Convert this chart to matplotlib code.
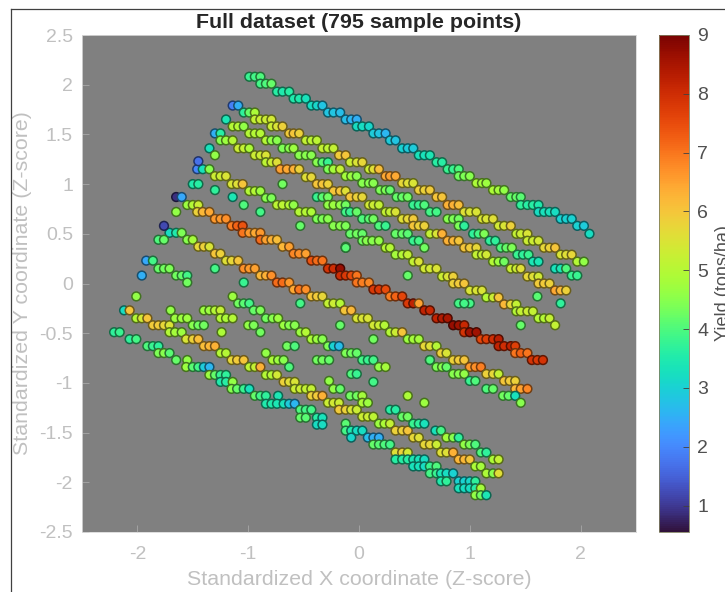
import numpy as np
import matplotlib
matplotlib.use('Agg')
import matplotlib.pyplot as plt

plt.rcParams['font.family'] = ['Liberation Sans', 'DejaVu Sans']

# top row
top_x = [-0.99,-0.94,-0.89, -0.89,-0.84,-0.79, -0.74,-0.69,-0.63, -0.59,-0.54,-0.48, -0.43,-0.38,-0.33,
         -0.28,-0.23,-0.17, -0.12,-0.07,-0.02, -0.02,0.03,0.09, 0.13,0.18,0.24, 0.28,0.33, 0.39,0.44,0.49,
         0.54,0.59,0.64, 0.70,0.75, 0.80,0.85,0.90, 0.90,0.95,1.00, 1.06,1.11,1.15, 1.21,1.26,1.31,
         1.37,1.42,1.46, 1.46,1.52,1.57,1.62, 1.62,1.67,1.72,1.77, 1.82,1.87,1.92, 1.97,2.03, 2.08]
top_y = [2.08,2.08,2.08, 2.01,2.01,2.01, 1.93,1.93,1.93, 1.86,1.86,1.86, 1.79,1.79,1.79,
         1.72,1.72,1.72, 1.65,1.65,1.65, 1.58,1.58,1.58, 1.51,1.51,1.51, 1.44,1.44, 1.36,1.36,1.36,
         1.29,1.29,1.29, 1.22,1.22, 1.15,1.15,1.15, 1.08,1.08,1.08, 1.01,1.01,1.01, 0.94,0.94,0.94,
         0.87,0.87,0.87, 0.79,0.79,0.79,0.79, 0.72,0.72,0.72,0.72, 0.65,0.65,0.65, 0.58,0.58, 0.50]
top_v = [3.8,3.9,4.0, 3.9,4.0,4.2, 3.6,3.5,3.6, 3.5,3.5,3.3, 3.2,3.1,2.8,
         2.8,2.8,2.7, 2.7,2.6,2.5, 3.2,3.2,3.1, 2.9,2.8,2.6, 2.9,2.8, 3.0,2.9,2.9,
         3.3,3.3,3.4, 3.6,3.6, 3.8,3.8,4.0, 4.3,4.4,4.5, 4.9,4.8,4.7, 4.9,4.8,4.6,
         4.2,4.2,4.1, 3.7,3.6,3.6,3.5, 3.2,3.3,3.3,3.2, 3.0,3.0,3.0, 3.0,2.9, 3.2]

# second row
second_x = [-1.14,-1.09, -1.04,-0.99,-0.94, -0.94,-0.89,-0.84,-0.79, -0.79,-0.74,-0.69, -0.63,-0.59,-0.54,
            -0.48,-0.43,-0.38, -0.33,-0.28,-0.23, -0.18,-0.12, -0.08,-0.02,0.03, 0.09,0.13,0.18,
            0.24,0.28,0.33, 0.39,0.44,0.49, 0.54,0.59,0.64, 0.70,0.75, 0.80,0.85,0.90, 0.95,1.00,1.06,
            1.11,1.15,1.21, 1.26,1.31,1.37, 1.42,1.46,1.52, 1.52,1.57,1.62, 1.67,1.72,1.77,
            1.82,1.87,1.92, 1.97,2.03]
second_y = [1.79,1.79, 1.72,1.72,1.72, 1.65,1.65,1.65,1.65, 1.58,1.58,1.58, 1.51,1.51,1.51,
            1.44,1.44,1.44, 1.36,1.36,1.36, 1.29,1.29, 1.22,1.22,1.22, 1.15,1.15,1.15,
            1.08,1.08,1.08, 1.01,1.01,1.01, 0.94,0.94,0.94, 0.87,0.87, 0.79,0.79,0.79, 0.72,0.72,0.72,
            0.65,0.65,0.65, 0.58,0.58,0.58, 0.50,0.50,0.50, 0.43,0.43,0.43, 0.36,0.36,0.36,
            0.29,0.29,0.29, 0.22,0.22]
second_v = [1.9,2.5, 3.7,4.2,4.9, 5.2,5.3,5.3,5.4, 5.3,5.5,5.8, 5.9,6.0,5.8,
            5.2,5.1,5.1, 5.2,5.1,5.2, 5.9,6.0, 5.3,5.5,5.7, 5.3,5.6,6.1,
            6.4,6.5,6.4, 5.7,5.6,5.5, 5.8,5.8,5.9, 6.0,6.0, 6.3,6.3,6.1, 5.6,5.5,5.5,
            5.5,5.5,5.6, 5.4,5.5,5.8, 5.2,5.3,5.5, 5.3,5.3,5.4, 5.7,5.8,6.0,
            5.5,5.6,5.7, 5.0,4.6]

# third row, green band
third_x = [-1.20, -1.14,-1.09,-1.04, -1.30,-1.25, -0.99,-0.94,-0.89, -0.84,-0.79,-0.74, -0.69,-0.63,-0.59,
           -0.54,-0.48,-0.43, -0.38,-0.33,-0.28, -0.28,-0.23,-0.17, -0.12,-0.07,-0.02, 0.03,0.09,0.13,
           0.19,0.24,0.28, 0.34,0.39,0.44, 0.49,0.54,0.59, 0.64,0.70, 0.80,0.85,0.90, 0.90,0.95,
           1.03,1.08,1.13, 1.18,1.23, 1.28,1.33,1.38, 1.43,1.48,1.53, 1.57,1.62, 1.77,1.82,1.87, 1.92,1.97]
third_y = [1.65, 1.58,1.58,1.58, 1.51,1.51, 1.51,1.51,1.51, 1.44,1.44,1.44, 1.36,1.36,1.36,
           1.29,1.29,1.29, 1.22,1.22,1.22, 1.15,1.15,1.15, 1.08,1.08,1.08, 1.01,1.01,1.01,
           0.94,0.94,0.94, 0.87,0.87,0.87, 0.79,0.79,0.79, 0.72,0.72, 0.65,0.65,0.65, 0.58,0.58,
           0.50,0.50,0.50, 0.43,0.43, 0.36,0.36,0.36, 0.29,0.29,0.29, 0.22,0.22, 0.15,0.15,0.15, 0.08,0.08]
third_v = [3.4, 5.0,5.0,4.6, 2.5,3.6, 5.0,5.0,5.0, 5.0,4.6,4.5, 4.4,4.5,4.7,
           4.5,4.5,4.5, 4.5,4.1,3.8, 4.4,4.8,5.2, 4.8,4.7,4.5, 4.5,4.5,4.5,
           4.4,4.4,4.2, 4.2,4.2,4.3, 3.8,3.8,4.0, 3.9,3.9, 4.5,4.4,4.3, 4.4,3.7,
           3.7,3.9,4.4, 3.7,3.7, 4.0,4.2,4.4, 3.8,3.7,3.8, 3.4,3.4, 3.3,3.4,4.0, 3.8,3.8]

# fourth row, yellow band
fourth_x = [-1.25,-1.20,-1.14, -1.09,-1.04,-0.99, -0.94,-0.89,-0.84, -0.84,-0.79,-0.74, -0.71,-0.65,-0.59,-0.54,
            -0.48,-0.43, -0.38,-0.33,-0.28, -0.23,-0.17,-0.12, -0.08,-0.02,0.03, 0.09,0.13,0.18,
            0.24,0.28,0.33, 0.39,0.44,0.49, 0.49,0.54,0.59, 0.64,0.70,0.75, 0.80,0.85,0.90,
            0.95,1.00,1.06, 1.06,1.11,1.15, 1.21,1.26,1.31, 1.37,1.42,1.46, 1.52,1.57,1.62,
            1.62,1.67,1.72, 1.77,1.82,1.87]
fourth_y = [1.44,1.44,1.44, 1.36,1.36,1.36, 1.29,1.29,1.29, 1.22,1.22,1.22, 1.15,1.15,1.15,1.15,
            1.07,1.07, 1.00,1.00,1.00, 0.93,0.93,0.93, 0.87,0.87,0.87, 0.79,0.79,0.79,
            0.72,0.72,0.72, 0.65,0.65,0.65, 0.58,0.58,0.58, 0.50,0.50,0.50, 0.43,0.43,0.43,
            0.36,0.36,0.36, 0.29,0.29,0.29, 0.22,0.22,0.22, 0.15,0.15,0.15, 0.07,0.07,0.07,
            0.00,0.00,0.00, -0.07,-0.07,-0.07]
fourth_v = [4.5,4.7,5.0, 5.3,5.2,4.9, 5.3,5.3,5.5, 5.1,5.3,5.6, 6.5,6.4,6.3,5.8,
            5.6,5.7, 6.0,6.0,5.8, 6.0,6.0,5.6, 6.0,5.8,5.7, 5.4,5.3,5.2,
            5.2,5.2,5.5, 5.6,5.7,5.9, 6.0,5.8,5.8, 5.2,5.5,6.3, 6.3,6.2,6.0,
            6.0,5.9,5.7, 5.2,5.2,5.4, 5.0,4.7,4.3, 5.3,5.3,5.6, 5.7,5.6,5.4,
            5.9,5.9,5.8, 6.4,6.2,5.8]

# fifth row, runs down to the lower right corner
fifth_x = [-1.46,-1.41,-1.35, -1.30,-1.25,-1.20, -1.15,-1.10,-1.05, -0.99,-0.94,-0.89, -0.84,-0.79,
           -0.74,-0.69,-0.63,-0.59, -0.54,-0.48,-0.43, -0.38,-0.33,-0.28, -0.23,-0.17,-0.12,
           -0.08,-0.02,0.03, 0.03,0.07,0.12,0.18, 0.24,0.28, 0.33,0.39,0.44, 0.49,0.54,
           0.59,0.64,0.70, 0.75,0.80,0.85, 0.85,0.90,0.95, 1.00,1.06,1.11, 1.15,1.21,1.26,
           1.31,1.37,1.42, 1.42,1.46,1.52,1.57, 1.62,1.67,1.72, 1.77]
fifth_y = [1.15,1.15,1.15, 1.08,1.08,1.08, 1.00,1.00,1.00, 0.93,0.93,0.93, 0.86,0.86,
           0.79,0.79,0.79,0.79, 0.72,0.72,0.72, 0.65,0.65,0.65, 0.58,0.58,0.58,
           0.50,0.50,0.50, 0.43,0.43,0.43,0.43, 0.36,0.36, 0.29,0.29,0.29, 0.22,0.22,
           0.15,0.15,0.15, 0.07,0.07,0.07, 0.00,0.00,0.00, -0.07,-0.07,-0.07, -0.14,-0.14,-0.14,
           -0.21,-0.21,-0.21, -0.28,-0.28,-0.28,-0.28, -0.35,-0.35,-0.35, -0.42]
fifth_v = [2.0,3.3,4.5, 5.3,5.3,5.5, 5.5,5.6,6.0, 5.0,5.0,4.7, 4.5,4.4,
           5.1,5.1,5.0,4.6, 5.0,5.0,4.9, 4.4,4.4,4.5, 4.5,4.5,4.4,
           4.2,4.3,4.2, 4.3,4.5,4.5,4.6, 5.0,5.0, 4.8,5.0,5.2, 5.2,5.5,
           5.4,5.4,5.5, 5.3,5.5,5.8, 5.8,5.9,6.0, 5.5,5.5,5.5, 5.0,5.3,6.0,
           6.2,5.7,5.2, 5.0,5.2,5.3,5.2, 5.0,5.0,5.2, 5.2]

# green strip under the fifth row
strip_x = [-0.38,-0.33,-0.28, -0.28,-0.23,-0.17,-0.12, -0.12,-0.08,-0.02, 0.03,0.09,0.13, 0.18,0.24]
strip_y = [0.87,0.87,0.87, 0.79,0.79,0.79,0.79, 0.72,0.72,0.72, 0.65,0.65,0.65, 0.58,0.58]
strip_v = [3.8,4.1,4.3, 4.6,4.7,4.6,4.3, 3.9,3.8,4.2, 4.0,4.1,4.3, 4.0,3.8]

# upper orange band into the dark red run
red_x = [-1.55,-1.50,-1.45, -1.46,-1.41,-1.35, -1.30,-1.25,-1.20, -1.15,-1.10,-1.05,
         -1.05,-0.99,-0.94,-0.89, -0.89,-0.84,-0.79,-0.74, -0.69,-0.63, -0.59,-0.54,-0.48,
         -0.43,-0.38,-0.33, -0.28,-0.23,-0.17, -0.17,-0.12,-0.07,-0.02, -0.02,0.03,0.09,
         0.13,0.18,0.24, 0.28,0.33,0.39, 0.44,0.49,0.54, 0.59,0.64, 0.70,0.75,0.80,
         0.85,0.90,0.95, 0.95,1.00,1.06, 1.10,1.15,1.21,1.26, 1.26,1.31,1.37,1.41,
         1.41,1.46,1.52, 1.56,1.61,1.66]
red_y = [0.79,0.79,0.79, 0.72,0.72,0.72, 0.65,0.65,0.65, 0.58,0.58,0.58,
         0.51,0.51,0.51,0.51, 0.44,0.44,0.44,0.44, 0.37,0.37, 0.30,0.30,0.30,
         0.23,0.23,0.23, 0.15,0.15,0.15, 0.08,0.08,0.08,0.08, 0.01,0.01,0.01,
         -0.06,-0.06,-0.06, -0.13,-0.13,-0.13, -0.20,-0.20,-0.20, -0.27,-0.27, -0.35,-0.35,-0.35,
         -0.42,-0.42,-0.42, -0.49,-0.49,-0.49, -0.56,-0.56,-0.56,-0.56, -0.63,-0.63,-0.63,-0.63,
         -0.70,-0.70,-0.70, -0.77,-0.77,-0.77]
red_v = [4.7,5.0,5.3, 5.8,6.2,6.4, 6.6,6.6,6.7, 6.9,7.2,7.4,
         7.0,6.6,6.4,6.6, 7.1,6.5,6.3,6.1, 6.2,6.5, 6.8,6.7,6.5,
         7.4,7.1,7.0, 7.9,8.0,8.7, 8.0,7.8,7.5,7.0, 7.0,6.9,6.8,
         7.8,7.8,7.5, 6.9,7.2,7.6, 7.8,8.2,6.5, 8.2,8.1, 8.2,8.4,8.5,
         8.7,8.6,8.1, 7.9,8.6,8.6, 7.6,7.7,8.0,8.3, 8.2,8.0,8.2,7.7,
         7.0,7.2,7.0, 7.9,7.8,7.9]

# lower orange band, starts at the blue points on the left
orange_x = [-1.71,-1.65,-1.60, -1.55,-1.50, -1.45,-1.40,-1.35, -1.30,-1.25, -1.20,-1.15,-1.09,
            -1.04,-0.99,-0.94, -0.89,-0.84,-0.79, -0.74,-0.69,-0.63, -0.59,-0.54,-0.48,
            -0.43,-0.38,-0.33, -0.28,-0.23,-0.17, -0.13,-0.07, -0.02,0.03,0.08, 0.13,0.18,0.23,
            0.28,0.33,0.39, 0.44,0.49,0.54, 0.59,0.64,0.70, 0.74,0.79, 0.85,0.90,0.95,
            1.00,1.05,1.10, 1.15,1.21,1.26, 1.31,1.36,1.41, 1.41,1.46,1.52]
orange_y = [0.51,0.51,0.51, 0.44,0.44, 0.37,0.37,0.37, 0.30,0.30, 0.23,0.23,0.23,
            0.15,0.15,0.15, 0.08,0.08,0.08, 0.01,0.01,0.01, -0.06,-0.06,-0.06,
            -0.13,-0.13,-0.13, -0.20,-0.20,-0.20, -0.27,-0.27, -0.35,-0.35,-0.35, -0.42,-0.42,-0.42,
            -0.49,-0.49,-0.49, -0.56,-0.56,-0.56, -0.63,-0.63,-0.63, -0.70,-0.70, -0.77,-0.77,-0.77,
            -0.84,-0.84,-0.84, -0.91,-0.91,-0.91, -0.98,-0.98,-0.98, -1.06,-1.06,-1.06]
orange_v = [3.2,3.5,4.4, 4.5,4.8, 5.7,5.8,5.5, 6.0,5.8, 5.6,5.7,6.0,
            6.7,6.6,6.5, 6.2,6.3,6.7, 7.1,7.1,6.6, 6.4,7.0,6.7,
            6.0,5.9,5.7, 5.2,5.3,5.0, 6.0,6.2, 5.5,5.5,5.5, 5.4,5.3,5.0,
            5.0,5.3,6.0, 4.7,4.8,4.8, 5.7,5.6,5.0, 5.8,5.5, 5.8,5.9,6.0,
            6.6,6.7,6.9, 5.8,5.7,5.2, 6.0,5.9,5.8, 6.2,6.5,6.8]

# short run to the right under the orange band
tail_x = [0.64, 0.70,0.75,0.79, 0.85,0.90,0.95, 1.00,1.05, 1.15,1.21, 1.30,1.35,1.41, 1.46]
tail_y = [-0.77, -0.84,-0.84,-0.84, -0.91,-0.91,-0.91, -0.98,-0.98, -1.06,-1.06, -1.13,-1.13,-1.13, -1.20]
tail_v = [4.0, 4.4,4.5,4.2, 4.5,4.5,4.6, 3.8,4.0, 4.0,4.2, 4.3,4.2,3.3, 4.5]

# band in the lower half, yellow/orange
low_x = [-2.12,-2.07, -2.01,-1.96,-1.91, -1.86,-1.81,-1.76,-1.71, -1.71,-1.66,-1.60, -1.56,-1.50,-1.45,
         -1.40,-1.35,-1.30, -1.25,-1.20, -1.15,-1.10,-1.04, -0.99,-0.94,-0.89, -0.84,-0.79,-0.74,
         -0.68,-0.63,-0.58, -0.58,-0.53,-0.48,-0.43, -0.43,-0.38,-0.33, -0.28,-0.23,-0.18,
         -0.18,-0.12,-0.07,-0.02, 0.03,0.08,0.13, 0.18,0.23,0.28, 0.33,0.39,0.44, 0.49,0.54,
         0.59,0.64,0.70, 0.74,0.79,0.85, 0.90,0.95,1.00, 1.05,1.10, 1.15,1.21,1.26]
low_y = [-0.27,-0.27, -0.35,-0.35,-0.35, -0.42,-0.42,-0.42,-0.42, -0.49,-0.49,-0.49, -0.56,-0.56,-0.56,
         -0.63,-0.63,-0.63, -0.70,-0.70, -0.77,-0.77,-0.77, -0.84,-0.84,-0.84, -0.92,-0.92,-0.92,
         -0.99,-0.99,-0.99, -1.06,-1.06,-1.06,-1.06, -1.13,-1.13,-1.13, -1.20,-1.20,-1.20,
         -1.27,-1.27,-1.27,-1.27, -1.34,-1.34,-1.34, -1.41,-1.41,-1.41, -1.48,-1.48,-1.48, -1.55,-1.55,
         -1.62,-1.62,-1.62, -1.70,-1.70,-1.70, -1.77,-1.77,-1.77, -1.84,-1.84, -1.91,-1.91,-1.91]
low_v = [3.2,6.0, 5.0,5.4,6.0, 5.9,5.9,5.7,5.5, 5.0,4.8,4.7, 5.5,5.8,6.1,
         6.1,6.2,6.3, 5.0,5.0, 5.7,5.9,6.0, 5.1,5.2,6.3, 5.0,5.0,5.4,
         5.8,5.6,5.5, 5.3,5.3,5.2,5.2, 5.8,5.9,6.3, 5.3,5.4,5.3,
         5.9,5.8,5.5,5.3, 5.3,5.3,5.1, 4.7,4.9,5.2, 5.8,5.8,6.0, 5.7,5.6,
         5.7,5.7,5.3, 5.6,5.6,6.3, 6.2,6.2,6.0, 4.9,4.8, 4.9,4.5,5.6]

# bottom band, mostly green and cyan
bottom_x = [-2.21,-2.16, -2.07,-2.01, -1.91,-1.86,-1.81, -1.81,-1.76,-1.71, -1.65, -1.55,
            -1.56,-1.50,-1.45,-1.40,-1.35, -1.35,-1.30,-1.25,-1.20, -1.25,-1.20,-1.14,
            -1.15,-1.10,-1.04,-0.99, -0.94,-0.89,-0.84, -0.73, -0.84,-0.79,-0.74,-0.68,-0.63,-0.58,
            -0.53,-0.48,-0.43, -0.53,-0.48, -0.38,-0.33, -0.38,-0.33,
            -0.12, -0.12,-0.07,-0.02,0.03, -0.07, 0.08,0.13,0.18, 0.13,0.18,0.23,0.28,
            0.33,0.39,0.44, 0.33,0.39,0.44,0.49,0.54,0.59, 0.49,0.54,0.59, 0.64,0.70,
            0.64,0.70,0.74,0.79,0.85, 0.74,0.79, 0.90,0.95,1.00,1.05, 0.90,0.95,1.00,1.05,1.10,
            1.05,1.10,1.15]
bottom_y = [-0.49,-0.49, -0.56,-0.56, -0.63,-0.63,-0.63, -0.70,-0.70,-0.70, -0.77, -0.77,
            -0.84,-0.84,-0.84,-0.84,-0.84, -0.92,-0.92,-0.92,-0.92, -0.99,-0.99,-0.99,
            -1.06,-1.06,-1.06,-1.06, -1.13,-1.13,-1.13, -1.13, -1.21,-1.21,-1.21,-1.21,-1.21,-1.21,
            -1.27,-1.27,-1.27, -1.35,-1.35, -1.35,-1.35, -1.42,-1.42,
            -1.41, -1.48,-1.48,-1.48,-1.48, -1.55, -1.55,-1.55,-1.55, -1.62,-1.62,-1.62,-1.62,
            -1.70,-1.70,-1.70, -1.77,-1.77,-1.77,-1.77,-1.77,-1.77, -1.84,-1.84,-1.84, -1.84,-1.84,
            -1.91,-1.91,-1.91,-1.91,-1.91, -1.99,-1.99, -1.99,-1.99,-1.99,-1.99, -2.06,-2.06,-2.06,-2.06,-2.06,
            -2.13,-2.13,-2.13]
bottom_v = [3.7,3.8, 3.7,3.9, 4.0,3.8,3.7, 4.4,4.5,4.1, 4.2, 4.6,
            4.7,4.1,3.9,2.9,2.6, 4.7,4.2,3.8,3.7, 3.5,3.6,4.6,
            4.5,4.2,3.8,3.3, 4.2,3.9,3.7, 3.4, 3.5,3.5,3.4,3.3,2.9,2.6,
            4.0,3.9,3.9, 4.2,4.1, 3.6,3.3, 3.2,3.2,
            4.1, 3.9,3.5,3.2,3.2, 3.1, 2.7,2.5,2.5, 4.2,4.1,4.0,3.9,
            5.6,5.8,5.4, 3.6,3.6,3.6,3.4,3.3,3.2, 3.3,3.3,3.2, 3.8,4.0,
            3.9,3.8,3.4,3.2,3.0, 3.5,3.7, 3.0,3.0,3.1,3.7, 3.3,3.2,3.2,3.6,4.8,
            4.6,4.3,3.4]

# upper band of the lower block
mid_x = [-1.70, -1.66,-1.60,-1.55, -1.50,-1.45,-1.40, -1.40,-1.35,-1.30,-1.25, -1.25,-1.20,-1.14, -1.24,
         -1.09,-1.04,-0.99, -0.95,-0.89, -0.84,-0.78,-0.73, -0.68,-0.63,-0.58, -0.53,-0.48,
         -0.43,-0.38,-0.33, -0.28,-0.23,-0.18, -0.12,-0.07,-0.02, 0.03,0.08,0.13, 0.18,0.24,
         -1.00,-0.95, -0.89, -0.65,-0.58, -0.84, -0.78,-0.73,-0.68, -0.63, -0.38,-0.33,-0.27, -0.27,
         -0.23,-0.17, -0.07,-0.02, -0.08,-0.02,0.03, 0.03,0.08,
         0.28,0.33, 0.39,0.44, 0.49,0.54,0.59, 0.69,0.74, 0.79,0.85,0.90, 0.95,1.00,1.05, 1.10,1.15, 1.21,1.26]
mid_y = [-0.27, -0.35,-0.35,-0.35, -0.42,-0.42,-0.42, -0.27,-0.27,-0.27,-0.27, -0.35,-0.35,-0.35, -0.49,
         -0.20,-0.20,-0.20, -0.27,-0.27, -0.35,-0.35,-0.35, -0.42,-0.42,-0.42, -0.49,-0.49,
         -0.56,-0.56,-0.56, -0.63,-0.63,-0.63, -0.70,-0.70,-0.70, -0.77,-0.77,-0.77, -0.84,-0.84,
         -0.42,-0.42, -0.49, -0.63,-0.63, -0.70, -0.77,-0.77,-0.77, -0.84, -0.77,-0.77,-0.77, -0.98,
         -1.06,-1.06, -0.91,-0.91, -1.13,-1.13,-1.13, -1.20,-1.20,
         -1.27,-1.27, -1.34,-1.34, -1.41,-1.41,-1.41, -1.48,-1.48, -1.55,-1.55,-1.55, -1.62,-1.62,-1.62, -1.70,-1.70, -1.77,-1.77]
mid_v = [4.6, 4.7,4.7,4.7, 4.5,4.3,4.3, 4.7,4.7,5.0,5.2, 5.0,4.9,5.0, 4.9,
         4.3,4.1,3.9, 4.2,4.4, 4.3,4.5,4.7, 4.7,4.5,4.5, 4.7,5.0,
         4.9,4.7,4.5, 4.4,3.0,2.7, 4.4,4.3,4.2, 3.9,3.8,3.9, 4.6,4.8,
         4.6,4.4, 4.3, 4.3,4.0, 4.6, 4.9,4.7,4.5, 4.0, 4.3,4.3,4.2, 4.6,
         4.6,4.2, 4.0,3.8, 4.3,4.3,4.8, 4.9,4.7,
         3.6,3.6, 4.2,4.3, 3.8,3.7,3.3, 3.3,3.9, 4.8,4.5,3.7, 4.6,4.4,4.0, 4.0,3.7, 4.9,5.2]

# single points and small groups
lone_x = [-1.45, -1.35, -1.30, -1.50,-1.45, -1.30, -1.14, -1.04, -0.89, -0.69, -0.53, -0.12, -1.65,-1.60, -1.65,
          -1.76, -1.81,-1.76, -1.92,-1.86, -1.81,-1.76,-1.71, -1.65,-1.60,-1.55, -1.55, -1.96, -1.30, -1.04,
          -2.01, -1.14, -0.53, -0.17, -0.12, 0.44, 0.33,0.39,0.44, 0.49,0.54, 0.59, 1.00, 1.61, 1.82, 1.46,
          0.13, 0.64, 0.44, 0.59, 0.13, -0.12, 0.90,0.95]
lone_y = [1.23, 1.36, 1.29, 1.00,1.00, 0.94, 0.87, 0.79, 0.72, 1.00, 0.58, 0.37, 0.87,0.87, 0.72,
          0.58, 0.44,0.44, 0.23,0.23, 0.15,0.15,0.15, 0.08,0.08,0.08, 0.01, 0.08, 0.15, 0.01,
          -0.13, -0.13, -0.20, -0.42, 0.36, 0.08, 0.50,0.50,0.50, 0.43,0.43, 0.36, -0.20, -0.13, -0.20, -0.42,
          -0.56, -0.77, -1.13, -1.20, -0.99, 0.36, -0.20,-0.20]
lone_v = [1.7, 3.3, 4.6, 3.5,3.6, 3.7, 3.4, 4.0, 3.9, 4.3, 4.2, 4.2, 0.9,2.4, 4.6,
          1.2, 4.0,4.2, 2.4,3.9, 4.2,4.3,4.4, 4.3,4.2,3.9, 4.3, 2.5, 3.9, 3.8,
          4.6, 4.7, 3.9, 4.2, 4.1, 4.2, 4.2,4.2,4.1, 3.8,3.9, 4.3, 3.9, 4.1, 3.7, 4.2,
          4.3, 4.0, 4.9, 4.7, 3.9, 4.1, 3.9,3.9]

x = np.concatenate([top_x, second_x, third_x, fourth_x, fifth_x, strip_x, red_x, orange_x, tail_x, low_x, bottom_x, mid_x, lone_x])
y = np.concatenate([top_y, second_y, third_y, fourth_y, fifth_y, strip_y, red_y, orange_y, tail_y, low_y, bottom_y, mid_y, lone_y])
v = np.concatenate([top_v, second_v, third_v, fourth_v, fifth_v, strip_v, red_v, orange_v, tail_v, low_v, bottom_v, mid_v, lone_v])

fig = plt.figure(figsize=(7.25, 5.92), dpi=100)
ax = fig.add_axes([82/725, 1-532/592, (636-82)/725, (532-35)/592])
ax.set_facecolor('#808080')

norm = plt.Normalize(0.55, 9)
cmap = plt.get_cmap('turbo')
edges = cmap(norm(v))
edges[:, :3] = edges[:, :3]*0.45
pts = ax.scatter(x, y, c=v, cmap=cmap, norm=norm, s=40, edgecolors=edges, linewidths=1.1)

ax.set_xlim(-2.5, 2.5)
ax.set_ylim(-2.5, 2.5)
ax.set_xticks([-2, -1, 0, 1, 2])
ax.set_xticklabels(['-2', '-1', '0', '1', '2'])
ax.set_yticks(np.arange(-2.5, 2.6, 0.5))
ax.set_yticklabels(['-2.5', '-2', '-1.5', '-1', '-0.5', '0', '0.5', '1', '1.5', '2', '2.5'])
ax.tick_params(direction='in', length=5, width=0.6, color='#a8a8a8', labelcolor='#c0c0c0', labelsize=14)
ax.tick_params(axis='x', pad=10)
ax.tick_params(axis='y', pad=6.5)
for s in ax.spines.values():
    s.set_color('#d8d8d8')
    s.set_linewidth(0.6)

ax.set_title('Full dataset (795 sample points)', fontsize=15.4, fontweight='bold', color='#262626', pad=5)
ax.set_xlabel('Standardized X coordinate (Z-score)', fontsize=15.4, color='#c0c0c0', labelpad=5)
ax.set_ylabel('Standardized Y coordinate (Z-score)', fontsize=15.4, color='#c0c0c0', labelpad=5)

cax = fig.add_axes([659/725, 1-532/592, 30/725, (532-35)/592])
cb = fig.colorbar(pts, cax=cax)
cb.set_ticks([1, 2, 3, 4, 5, 6, 7, 8, 9])
cb.ax.tick_params(direction='in', length=4, width=0.6, color='#404040', labelcolor='#505050', labelsize=14, pad=6)
cb.outline.set_edgecolor('#808060')
cb.outline.set_linewidth(0.6)
fig.text(723/725, 1-283/592, 'Yield (tons/ha)', rotation=90, ha='center', va='center', fontsize=13, color='#505050')

# frame line of the screenshot, top and left
fig.add_artist(plt.Line2D([10.5/725, 10.5/725], [0, 1-9/592], color='#404040', lw=0.9))
fig.add_artist(plt.Line2D([10.5/725, 1], [1-9/592, 1-9/592], color='#404040', lw=0.9))

fig.savefig('out.png', dpi=100)
